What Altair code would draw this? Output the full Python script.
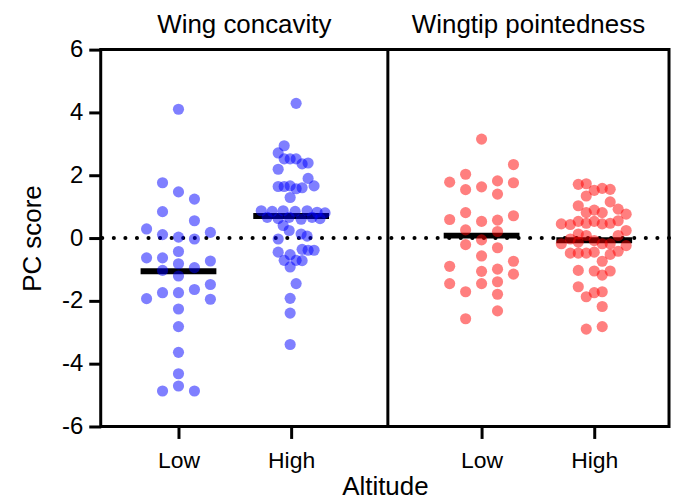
import altair as alt
import pandas as pd

traits = ["Wing concavity", "Wingtip pointedness"]
altitudes = ["Low", "High"]
trait_colors = ["#0000ff", "#ff0000"]
# group centres along the shared x axis (Low/High within each trait panel)
group_centers = [78, 191, 382, 495]
panel_edges = [0, 288, 570]
y_ticks = [-6, -4, -2, 0, 2, 4, 6]

# Wing concavity, low altitude
wc_low_vals = [4.10, 1.76, 1.47, 1.24, 0.84, 0.55, 0.29, 0.18, 0.11, 0.03, -0.03,
               -0.43, -0.63, -0.63, -0.73, -0.82, -1.03, -0.94, -1.21, -1.48, -1.64,
               -1.74, -1.74, -1.93, -1.95, -2.26, -2.82, -3.64, -4.32, -4.71, -4.87, -4.87]
wc_low_dx = [0, -16, 0, 16, -16, 16, -32, 32, -16, 0, 16,
             0, -32, -16, 32, 0, -16, 16, 0, 32, 16,
             -16, 0, -32, 32, 0, 0, 0, 0, 0, -16, 16]

# Wing concavity, high altitude
wc_high_vals = [4.29, 2.94, 2.71, 2.52, 2.52, 2.52, 2.36, 2.39, 2.19,
                1.64, 1.64, 1.66, 1.57, 1.60, 1.90, 1.66, 1.29,
                0.87, 0.85, 0.87, 0.85, 0.87, 0.82, 0.80,
                0.66, 0.62, 0.66, 0.60, 0.66, 0.62,
                0.40, 0.24, 0.13, 0.06, -0.03,
                -0.45, -0.71, -0.53, -0.92, -0.71, -0.72, -0.36, -0.39, -0.39,
                -1.45, -1.92, -2.39, -3.39]
wc_high_dx = [5, -7, -13, -7, -1, 5, 11, 17, -13,
              -13, -7, -1, 5, 11, 17, 23, -1,
              -30, -19, -8, 4, 16, 26, 34,
              -24, -13, -2, 10, 21, 29,
              -8, -2, 10, 16, -13,
              -13, -7, -1, -1, 5, 11, 11, 17, 23,
              5, -1, -1, -1]

# Wingtip pointedness, low altitude
wp_low_vals = [3.15, 2.34, 1.78, 2.03, 1.54, 1.63, 1.82, 1.76, 1.40, 0.81, 0.59,
               0.53, 0.57, 0.71, 0.26, 0.21, -0.21, -0.06, -0.31, -0.57, -0.90,
               -1.06, -0.99, -0.74, -1.15, -1.45, -1.45, -1.39, -1.71, -1.79, -2.32, -2.57]
wp_low_dx = [0, 32, -32, -16, -16, 0, 16, 32, 16, -16, -32,
             0, 16, 32, -16, 16, -16, 0, 16, 0, -32,
             0, 16, 32, 32, -32, 0, 16, -16, 16, 16, -16]

# Wingtip pointedness, high altitude
wp_high_vals = [1.71, 1.73, 1.52, 1.58, 1.55, 1.34, 1.03, 1.15, 0.92, 0.76, 0.81, 0.89, 0.81,
                0.45, 0.43, 0.53, 0.47, 0.53, 0.45, 0.47, 0.55,
                0.24, 0.13, 0.08, 0.08,
                -0.18, -0.03, -0.13, -0.08, -0.18, -0.18, -0.24,
                -0.48, -0.48, -0.48, -0.45, -0.52, -0.42,
                -0.74, -1.03, -1.05, -1.05, -1.18, -1.55, -1.87, -1.74, -1.71, -2.18, -2.90, -2.82]
wp_high_dx = [-16, -8, 0, 8, 16, -8, -16, 16, 24, 32, -8, 0, 8,
              -33, -24, -16, -8, 0, 8, 16, 24,
              32, -16, -8, 24,
              -33, -24, -16, 0, 8, 16, 32,
              -24, -16, -8, 0, 16, 24,
              8, -16, 0, 16, 8, -16, -8, 0, 8, 8, -8, 8]

groups = [
    (traits[0], altitudes[0], wc_low_vals, wc_low_dx),
    (traits[0], altitudes[1], wc_high_vals, wc_high_dx),
    (traits[1], altitudes[0], wp_low_vals, wp_low_dx),
    (traits[1], altitudes[1], wp_high_vals, wp_high_dx),
]
rows = []
for (tr, al, vals, dxs), c in zip(groups, group_centers):
    for v, d in zip(vals, dxs):
        rows.append({"trait": tr, "altitude": al, "center": c, "dx": d, "value": v})
df = pd.DataFrame(rows)

FONT = "Liberation Sans"

# x axis label expression built from the group lists
label_expr = ""
for (tr, al, _, _), c in zip(groups, group_centers):
    label_expr += f"datum.value == {c} ? '{al}' : "
label_expr += "''"

x_scale = alt.Scale(domain=[panel_edges[0], panel_edges[-1]], nice=False, zero=False)
y_scale = alt.Scale(domain=[y_ticks[0], y_ticks[-1]], nice=False)

x_enc = alt.X(
    "xpos:Q", scale=x_scale,
    axis=alt.Axis(values=group_centers, labelExpr=label_expr, title="Altitude",
                  grid=False, tickSize=12, tickWidth=3, tickColor="black",
                  domain=False, labelFontSize=23, labelFont=FONT, labelColor="black",
                  labelPadding=11, titleFontSize=26, titleFont=FONT,
                  titleFontWeight="normal", titleColor="black", titlePadding=1),
)
y_axis = alt.Axis(values=y_ticks, labelExpr="'' + datum.value", title="PC score",
                  grid=False, tickSize=12, tickWidth=3, tickColor="black",
                  domain=False, labelFontSize=24, labelFont=FONT, labelColor="black",
                  labelPadding=6, titleFontSize=26, titleFont=FONT,
                  titleFontWeight="normal", titleColor="black", titlePadding=16)

points = alt.Chart(df).transform_calculate(
    xpos="datum.center + datum.dx"
).mark_circle(size=125, opacity=0.5).encode(
    x=x_enc,
    y=alt.Y("value:Q", scale=y_scale, axis=y_axis),
    color=alt.Color("trait:N", scale=alt.Scale(domain=traits, range=trait_colors), legend=None),
)

means = alt.Chart(df).transform_calculate(
    xpos="datum.center"
).mark_tick(orient="horizontal", size=76, thickness=6, color="black").encode(
    x=x_enc,
    y=alt.Y("mean(value):Q", scale=y_scale, axis=y_axis),
)

zero = alt.Chart(pd.DataFrame({"value": [0]})).mark_rule(
    color="black", strokeWidth=4, strokeDash=[0.1, 11.5], strokeCap="round"
).encode(y=alt.Y("value:Q", scale=y_scale, axis=y_axis))

divider = alt.Chart(pd.DataFrame({"xpos": [panel_edges[1]]})).mark_rule(
    color="black", strokeWidth=3
).encode(x=x_enc)

panel_mid = [(panel_edges[i] + panel_edges[i + 1]) / 2 for i in range(len(traits))]
titles = alt.Chart(pd.DataFrame({"xpos": panel_mid, "label": traits})).mark_text(
    fontSize=26, font=FONT, color="black", baseline="middle"
).encode(x=x_enc, y=alt.value(-25), text="label:N")

chart = alt.layer(zero, divider, means, points, titles).properties(
    width=570, height=378,
    autosize=alt.AutoSizeParams(type="none"),
    padding={"left": 93, "top": 41, "right": 3, "bottom": 72},
).configure_view(stroke="black", strokeWidth=3)

chart.save("out.html", embed_options={"renderer": "svg", "actions": False})
